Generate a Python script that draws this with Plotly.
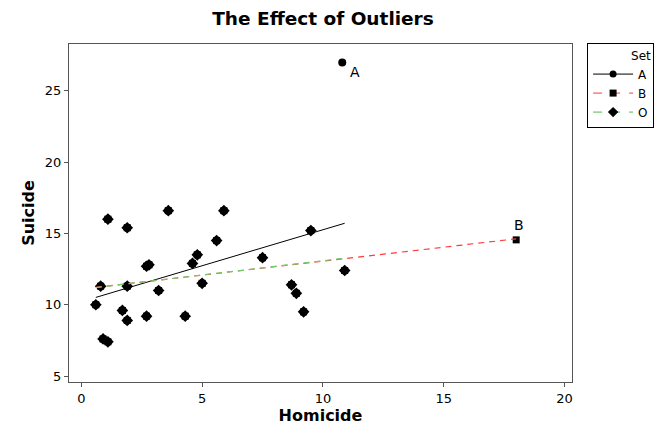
import numpy as np
import plotly.graph_objects as go

# Core data (set O)
homicide_o = [1.1, 1.9, 3.6, 5.9, 5.6, 9.5, 7.5, 4.8, 4.6, 2.8, 2.7, 0.8, 1.9, 5.0, 3.2,
              0.6, 1.7, 1.9, 2.7, 4.3, 0.9, 1.1, 8.7, 8.9, 9.2, 10.9]
suicide_o = [16.0, 15.4, 16.6, 16.6, 14.5, 15.2, 13.3, 13.5, 12.9, 12.8, 12.7, 11.3, 11.3, 11.5, 11.0,
             10.0, 9.6, 8.9, 9.2, 9.2, 7.6, 7.4, 11.4, 10.8, 9.5, 12.4]
# Outliers
outlier_a = (10.8, 27.0)
outlier_b = (18.0, 14.55)

set_names = ["A", "B", "O"]
x_ticks = [0, 5, 10, 15, 20]
y_ticks = [5, 10, 15, 20, 25]

hx_a = homicide_o + [outlier_a[0]]
sy_a = suicide_o + [outlier_a[1]]
hx_b = homicide_o + [outlier_b[0]]
sy_b = suicide_o + [outlier_b[1]]

FONT = "DejaVu Sans"
fig = go.Figure()

def fit_line(x, y):
    m, c = np.polyfit(x, y, 1)
    xs = np.array([min(x), max(x)])
    return xs, m * xs + c

# Markers: O diamonds, B squares, A circles (overlapping)
fig.add_trace(go.Scatter(x=homicide_o, y=suicide_o, mode="markers", showlegend=False,
                         marker=dict(symbol="diamond", size=9, color="black")))
fig.add_trace(go.Scatter(x=hx_b, y=sy_b, mode="markers", showlegend=False,
                         marker=dict(symbol="square", size=7, color="black")))
fig.add_trace(go.Scatter(x=hx_a, y=sy_a, mode="markers", showlegend=False,
                         marker=dict(symbol="circle", size=8, color="black")))

# Regression lines
xa, ya = fit_line(hx_a, sy_a)
xb, yb = fit_line(hx_b, sy_b)
xo, yo = fit_line(homicide_o, suicide_o)
fig.add_trace(go.Scatter(x=xa, y=ya, mode="lines", showlegend=False,
                         line=dict(color="black", width=1)))
fig.add_trace(go.Scatter(x=xb, y=yb, mode="lines", showlegend=False,
                         line=dict(color="#ff3b3b", width=1.2, dash="6px,5px")))
fig.add_trace(go.Scatter(x=xo, y=yo, mode="lines", showlegend=False,
                         line=dict(color="#6ccf6c", width=1.2, dash="6px,5px")))

# Legend entries
styles = {
    "A": dict(line=dict(color="black", width=1), marker=dict(symbol="circle", size=7, color="black")),
    "B": dict(line=dict(color="#ff3b3b", width=1, dash="dash"), marker=dict(symbol="square", size=7, color="black")),
    "O": dict(line=dict(color="#4cbf4c", width=1, dash="dash"), marker=dict(symbol="diamond", size=8, color="black")),
}
for name in set_names:
    fig.add_trace(go.Scatter(x=[None], y=[None], mode="lines+markers", name=name, **styles[name]))

# Outlier labels
fig.add_annotation(x=outlier_a[0], y=outlier_a[1], text="A", showarrow=False,
                   xshift=13, yshift=-10, font=dict(family=FONT, size=14, color="black"))
fig.add_annotation(x=outlier_b[0], y=outlier_b[1], text="B", showarrow=False,
                   xshift=3, yshift=15, font=dict(family=FONT, size=14, color="black"))

axis_common = dict(showline=True, linecolor="#555555", linewidth=1, mirror=True,
                   ticks="outside", ticklen=4, tickcolor="#555555", showgrid=False, zeroline=False,
                   automargin=False,
                   tickfont=dict(family=FONT, size=13, color="black"))
fig.update_xaxes(range=[-0.51, 20.31], tickvals=x_ticks,
                 title=dict(text="<b>Homicide</b>", font=dict(family=FONT, size=16, color="black"), standoff=4),
                 **axis_common)
fig.update_yaxes(range=[4.58, 28.29], tickvals=y_ticks,
                 title=dict(text="<b>Suicide</b>", font=dict(family=FONT, size=16, color="black"), standoff=6),
                 **axis_common)

fig.update_layout(
    width=666, height=429,
    margin=dict(l=69, r=92, t=44, b=47),
    paper_bgcolor="white", plot_bgcolor="white",
    title=dict(text="<b>The Effect of Outliers</b>", x=0.485, xanchor="center", y=0.957, yanchor="middle",
               font=dict(family=FONT, size=18.5, color="black")),
    legend=dict(x=1.03, y=1.003, xanchor="left", yanchor="top",
                bordercolor="black", borderwidth=1, bgcolor="white",
                title=dict(text="Set", font=dict(family=FONT, size=12, color="black"), side="top right"),
                font=dict(family=FONT, size=12, color="black"),
                itemwidth=40, tracegroupgap=0),
)

fig.write_html("out.html")
